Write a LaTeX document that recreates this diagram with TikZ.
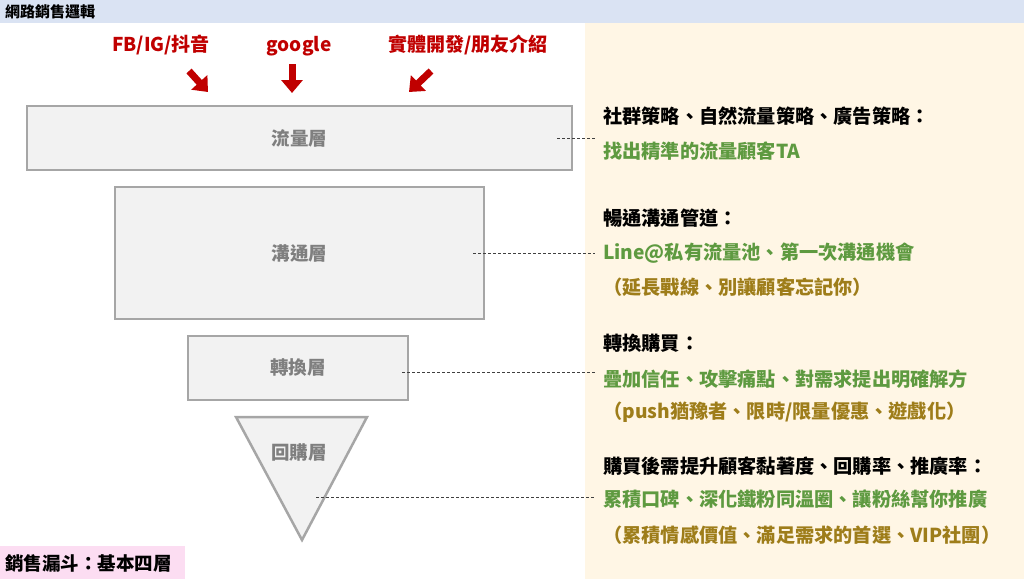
\documentclass[tikz,border=0pt]{standalone}
\usepackage{fontspec}
\setmainfont{Noto Sans CJK TC}
\usetikzlibrary{arrows.meta, positioning}

\definecolor{bandblue}{HTML}{DAE3F3}
\definecolor{panelcream}{HTML}{FFF6E5}
\definecolor{tagpink}{HTML}{FCDDF2}
\definecolor{srcred}{HTML}{C00000}
\definecolor{layerfill}{HTML}{F2F2F2}
\definecolor{layerline}{HTML}{A6A6A6}
\definecolor{layertext}{HTML}{7F7F7F}
\definecolor{notegreen}{HTML}{5E9A40}
\definecolor{notegold}{HTML}{9E7D1A}

\begin{document}
\begin{tikzpicture}[x=1pt, y=-1pt,
    layer/.style={draw=layerline, fill=layerfill, line width=2.5pt,
        text=layertext, inner sep=0pt, font=\fontsize{18.5}{18.5}\selectfont\bfseries},
    source/.style={text=srcred, anchor=base, inner sep=0pt,
        font=\fontsize{19}{19}\selectfont\bfseries},
    push/.style={draw=srcred, line width=7pt, -{Triangle[length=13pt, width=21pt]}},
    note/.style={anchor=west, inner sep=0pt, font=\fontsize{19.2}{19.2}\selectfont\bfseries},
    lead/.style={densely dashed, line width=0.6pt, black!75}]

    \useasboundingbox (0,0) rectangle (1024,579);

    % backgrounds
    \fill[bandblue] (0,0) rectangle (1024,23);
    \fill[panelcream] (585,23) rectangle (1024,579);
    \fill[tagpink] (0,546) rectangle (185,579);

    \node[anchor=west, inner sep=0pt, font=\fontsize{15}{15}\selectfont\bfseries]
        (title) at (5,12) {網路銷售邏輯};
    \node[anchor=west, inner sep=0pt, font=\fontsize{18.5}{18.5}\selectfont\bfseries]
        (tag) at (5,563) {銷售漏斗：基本四層};

    % traffic sources
    \node[source] (fb) at (161,51) {FB/IG/抖音};
    \node[source] (gg) at (299,51) {google};
    \node[source] (ofl) at (468,51) {實體開發/朋友介紹};

    \coordinate (fb0) at (189,71);
    \coordinate (fb1) at (208,92);
    \coordinate (gg0) at (292,64);
    \coordinate (gg1) at (292,93);
    \coordinate (ofl0) at (431,71);
    \coordinate (ofl1) at (409,92);
    \draw[push] (fb0) -- (fb1);
    \draw[push] (gg0) -- (gg1);
    \draw[push] (ofl0) -- (ofl1);

    % funnel layers
    \node[layer, minimum width=545pt, minimum height=64pt] (flow) at (299.5,138) {流量層};
    \node[layer, minimum width=369pt, minimum height=132pt] (talk) at (299.5,253) {溝通層};
    \node[layer, minimum width=220pt, minimum height=64pt] (conv) at (298,368) {轉換層};

    \coordinate (vl) at (236,417);
    \coordinate (vr) at (367,417);
    \coordinate (vb) at (302,540);
    \filldraw[draw=layerline, fill=layerfill, line width=2.5pt] (vl) -- (vr) -- (vb) -- cycle;
    \node[layer, draw=none, fill=none] (rebuy) at (299,452) {回購層};

    % notes
    \node[note] (n1a) at (603,116) {社群策略、自然流量策略、廣告策略：};
    \node[note, text=notegreen] (n1b) at (603,151) {找出精準的流量顧客TA};

    \node[note] (n2a) at (603,218) {暢通溝通管道：};
    \node[note, text=notegreen] (n2b) at (603,253) {Line@私有流量池、第一次溝通機會};
    \node[note, text=notegold] (n2c) at (603,287) {（延長戰線、別讓顧客忘記你）};

    \node[note] (n3a) at (603,343) {轉換購買：};
    \node[note, text=notegreen] (n3b) at (603,379) {疊加信任、攻擊痛點、對需求提出明確解方};
    \node[note, text=notegold] (n3c) at (603,412) {（push猶豫者、限時/限量優惠、遊戲化）};

    \node[note] (n4a) at (603,466) {購買後需提升顧客黏著度、回購率、推廣率：};
    \node[note, text=notegreen] (n4b) at (603,499) {累積口碑、深化鐵粉同溫圈、讓粉絲幫你推廣};
    \node[note, text=notegold] (n4c) at (603,535) {（累積情感價值、滿足需求的首選、VIP社團）};

    % leaders
    \coordinate (gap) at (595,0);
    \coordinate (vm) at (316,497);
    \draw[lead] ([xshift=-16pt]flow.east) -- (flow.east -| gap);
    \draw[lead] ([xshift=-12pt]talk.east) -- (talk.east -| gap);
    \draw[lead] ([xshift=-7pt,yshift=-4pt]conv.east) -- ([yshift=-4pt]conv.east -| gap);
    \draw[lead] (vm) -- (vm -| gap);
\end{tikzpicture}
\end{document}
